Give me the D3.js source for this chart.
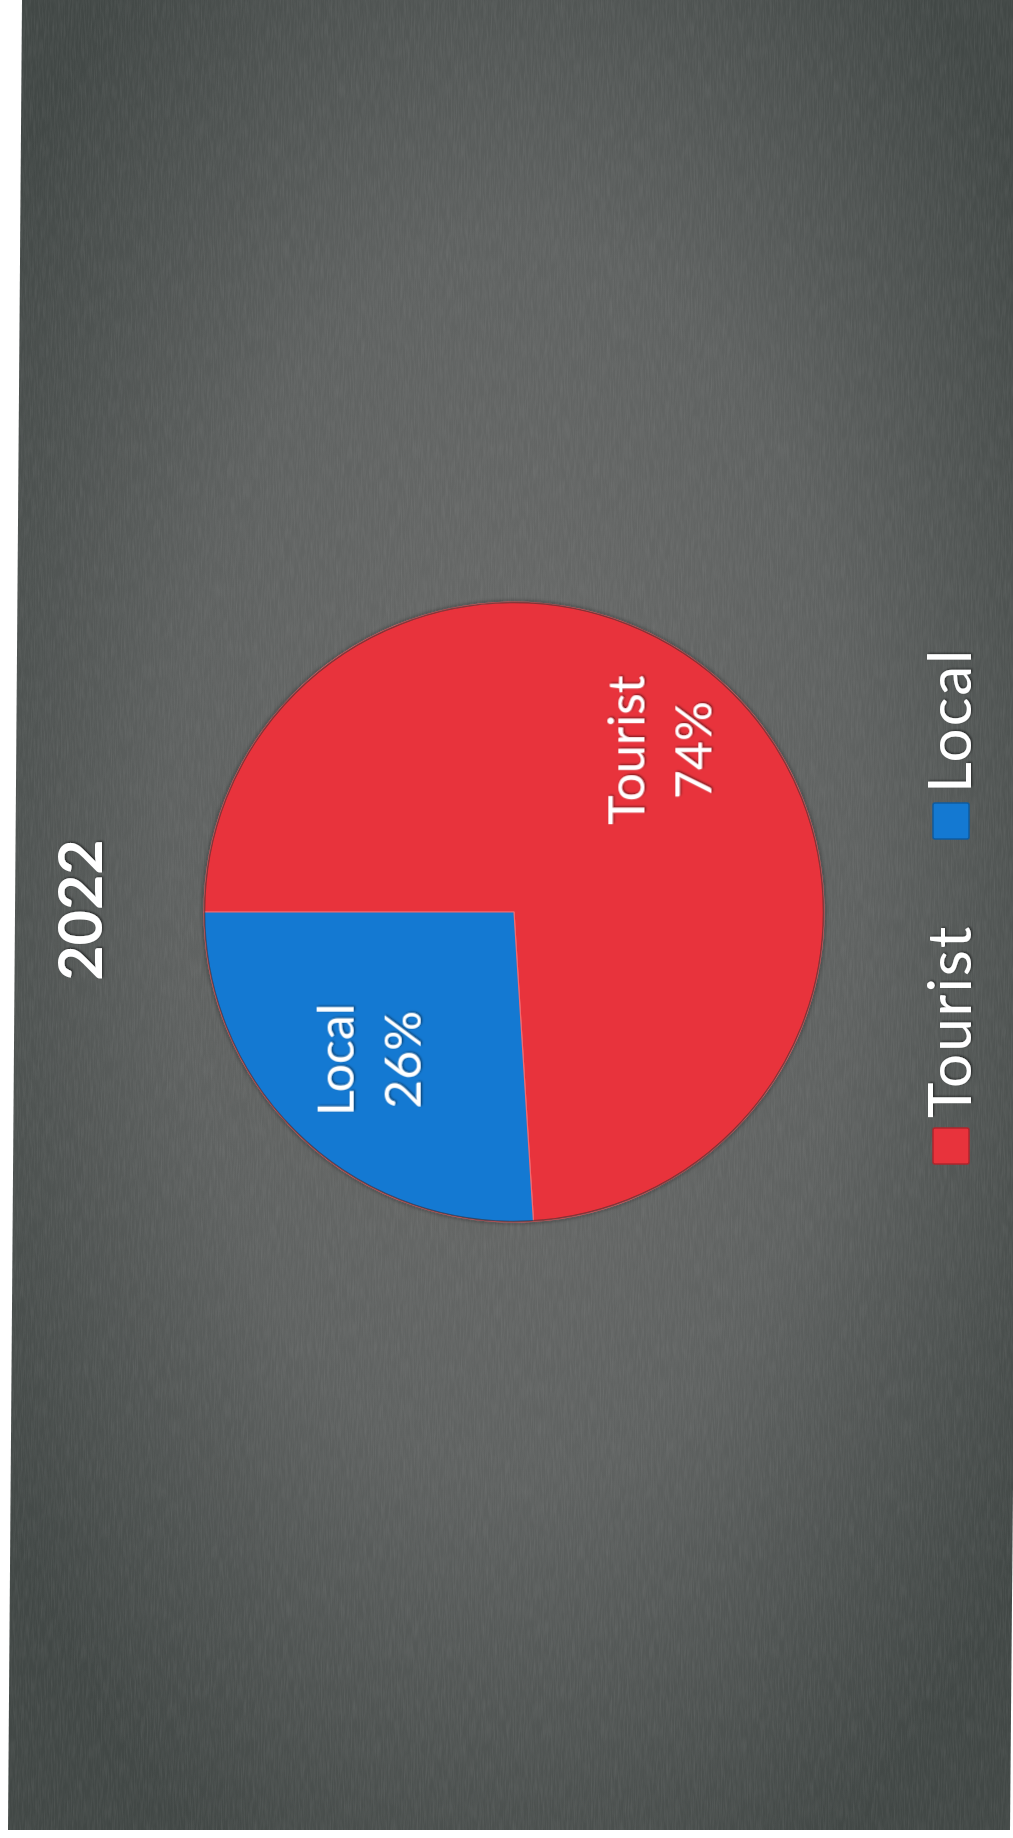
<!DOCTYPE html>
<html>
<head>
<meta charset="utf-8">
<script src="https://cdn.jsdelivr.net/npm/d3@7"></script>
<style>
  html, body { margin: 0; padding: 0; background: #ffffff; }
  svg { display: block; }
</style>
</head>
<body>
<script>
// Visitor split for 2022
const title = "2022";
const categories = ["Tourist", "Local"];
const shares = [74, 26];

const W = 1013, H = 1838;
const svg = d3.select("body").append("svg")
  .attr("width", W).attr("height", H)
  .style("font-family", "Lato, 'Open Sans', sans-serif");

const defs = svg.append("defs");

// Slide background: soft vignette, lighter towards the middle
const bg = defs.append("radialGradient").attr("id", "bgGrad")
  .attr("cx", "0.5").attr("cy", "0.47").attr("r", "0.62");
bg.append("stop").attr("offset", "0%").attr("stop-color", "#6b6c6b");
bg.append("stop").attr("offset", "55%").attr("stop-color", "#5f6261");
bg.append("stop").attr("offset", "100%").attr("stop-color", "#424846");

// Fine grain of the backdrop texture
const grain = defs.append("filter").attr("id", "grain")
  .attr("x", 0).attr("y", 0).attr("width", 1).attr("height", 1);
grain.append("feTurbulence").attr("type", "fractalNoise")
  .attr("baseFrequency", "0.7 0.05").attr("numOctaves", 3).attr("seed", 7)
  .attr("result", "noise");
grain.append("feColorMatrix").attr("type", "matrix")
  .attr("values", "0 0 0 0 0.5  0 0 0 0 0.5  0 0 0 0 0.5  0 0 0 1.4 -0.45");

const textShadow = defs.append("filter").attr("id", "txtShadow")
  .attr("x", "-10%").attr("y", "-10%").attr("width", "120%").attr("height", "120%");
textShadow.append("feDropShadow").attr("dx", 1).attr("dy", 1.2)
  .attr("stdDeviation", 1).attr("flood-color", "#000").attr("flood-opacity", 0.55);

const pieShadow = defs.append("filter").attr("id", "pieShadow")
  .attr("x", "-10%").attr("y", "-10%").attr("width", "120%").attr("height", "120%");
pieShadow.append("feDropShadow").attr("dx", 0).attr("dy", 0)
  .attr("stdDeviation", 2.5).attr("flood-color", "#1a1a1a").attr("flood-opacity", 0.7);

// Backdrop panel (sits slightly askew on the page)
const panel = [[22, 0], [1026, 0], [1010, 1830], [8, 1830]];
defs.append("clipPath").attr("id", "panelClip")
  .append("polygon").attr("points", panel.map(p => p.join(",")).join(" "));
svg.append("polygon")
  .attr("points", panel.map(p => p.join(",")).join(" "))
  .attr("fill", "url(#bgGrad)");
svg.append("rect")
  .attr("x", 0).attr("y", 0).attr("width", W).attr("height", H)
  .attr("filter", "url(#grain)")
  .attr("clip-path", "url(#panelClip)")
  .attr("opacity", 0.13);

// The chart is laid out in landscape and turned a quarter turn on the page
const chart = svg.append("g")
  .attr("transform", `translate(0,${H}) rotate(-90)`);

const color = d3.scaleOrdinal().domain(categories).range(["#e8333c", "#1479d2"]);
const data = categories.map((c, i) => ({ name: c, value: shares[i] }));

const cx = 926, cy = 514, radius = 310;

const pie = d3.pie().sort(null).value(d => d.value);
const arcs = pie(data);
const arc = d3.arc().innerRadius(0).outerRadius(radius);
const labelArc = d3.arc().innerRadius(radius * 0.685).outerRadius(radius * 0.685);

const pieG = chart.append("g").attr("transform", `translate(${cx},${cy})`);

pieG.append("circle").attr("r", radius).attr("fill", "#555").attr("filter", "url(#pieShadow)");

pieG.selectAll("path.slice").data(arcs).join("path")
  .attr("class", "slice")
  .attr("d", arc)
  .attr("fill", d => color(d.data.name))
  .attr("stroke", "#f26a70")
  .attr("stroke-width", 1.2)
  .attr("stroke-linejoin", "round");

pieG.append("circle").attr("r", radius - 0.5)
  .attr("fill", "none").attr("stroke", "#3a2a2a").attr("stroke-opacity", 0.6)
  .attr("stroke-width", 1.5);

// Slice labels: category and share on two lines
const labels = pieG.selectAll("text.lbl").data(arcs).join("text")
  .attr("class", "lbl")
  .attr("transform", d => {
    const [x, y] = labelArc.centroid(d);
    return `translate(${x + 7},${y})`;
  })
  .attr("text-anchor", "middle")
  .attr("fill", "#ffffff")
  .attr("font-size", 50)
  .attr("filter", "url(#txtShadow)");
labels.append("tspan").attr("x", 0).attr("y", -15).text(d => d.data.name);
labels.append("tspan").attr("x", 0).attr("y", 52).text(d => d.data.value + "%");

// Title
chart.append("text")
  .attr("x", 928).attr("y", 102)
  .attr("text-anchor", "middle")
  .attr("fill", "#ffffff")
  .attr("font-size", 61)
  .attr("font-weight", 700)
  .attr("filter", "url(#txtShadow)")
  .text(title);

// Legend
const legendX = [674, 999];
const legend = chart.append("g");
const items = legend.selectAll("g").data(data).join("g")
  .attr("transform", (d, i) => `translate(${legendX[i]},933)`);
items.append("rect")
  .attr("width", 36).attr("height", 36).attr("rx", 2)
  .attr("fill", d => color(d.name))
  .attr("stroke", d => d3.color(color(d.name)).darker(0.8))
  .attr("stroke-width", 1.5);
items.append("text")
  .attr("x", 46).attr("y", 38)
  .attr("fill", "#ffffff")
  .attr("font-size", 60)
  .attr("letter-spacing", 2)
  .attr("filter", "url(#txtShadow)")
  .text(d => d.name);
</script>
</body>
</html>
